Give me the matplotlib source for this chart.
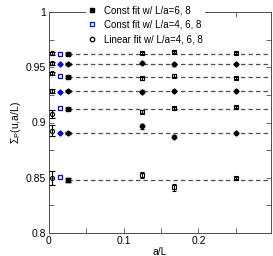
import matplotlib
matplotlib.use("Agg")
import matplotlib.pyplot as plt
from matplotlib.ticker import MultipleLocator, FuncFormatter

plt.rcParams['font.family'] = ['Liberation Sans', 'DejaVu Sans']
plt.rcParams['mathtext.fontset'] = 'custom'
plt.rcParams['mathtext.rm'] = 'Liberation Sans'
plt.rcParams['mathtext.it'] = 'Liberation Sans:italic'

# a/L of the data points (L/a = 8, 6, 4)
aL = [1/8, 1/6, 1/4]
# x positions where the continuum values are drawn
x_lin = 0.004
x_c468 = 0.015
x_c68 = 0.025

# rows drawn with squares
sq_data = [[0.9626, 0.9640, 0.9630],
           [0.9400, 0.9425, 0.9405],
           [0.9098, 0.9128, 0.9143],
           [0.8525, 0.8414, 0.8495]]
sq_err = [[0.0010, 0.0010, 0.0010],
          [0.0012, 0.0012, 0.0010],
          [0.0015, 0.0015, 0.0010],
          [0.0030, 0.0030, 0.0010]]
sq_c68 = [0.9623, 0.9415, 0.9123, 0.8480]
sq_c68_err = [0.0008, 0.0008, 0.0010, 0.0015]
sq_c468 = [0.9623, 0.9425, 0.9130, 0.8505]
sq_lin = [0.9625, 0.9445, 0.9080, 0.8495]
sq_lin_err = [0.0012, 0.0015, 0.0035, 0.0065]

# rows drawn with diamonds
dm_data = [[0.9540, 0.9525, 0.9530],
           [0.9280, 0.9282, 0.9285],
           [0.8965, 0.8872, 0.8902]]
dm_err = [[0.0010, 0.0010, 0.0008],
          [0.0010, 0.0010, 0.0008],
          [0.0025, 0.0015, 0.0010]]
dm_c68 = [0.9531, 0.9283, 0.8902]
dm_c68_err = [0.0008, 0.0008, 0.0010]
dm_c468 = [0.9530, 0.9280, 0.8902]
dm_lin = [0.9535, 0.9285, 0.8925]
dm_lin_err = [0.0012, 0.0020, 0.0050]

fig = plt.figure(figsize=(2.73, 2.56), dpi=100)
ax = fig.add_axes([49/273, 23/256, 222/273, 221/256])

ms = 3.0
dash = (0, (3.5, 2.5))
for i in range(len(sq_data)):
    ax.plot([x_c68, 0.3], [sq_c68[i]] * 2, ls=dash, color='0.3', lw=0.9, zorder=1)
    ax.errorbar(aL, sq_data[i], yerr=sq_err[i], fmt='s', mfc='none', mec='k', ms=ms,
                ecolor='k', elinewidth=0.8, capsize=1.5, mew=0.8, zorder=3)
    ax.errorbar(x_c68, sq_c68[i], yerr=sq_c68_err[i], fmt='s', color='k', ms=ms,
                elinewidth=0.8, capsize=2.5, zorder=3)
    ax.plot(x_c468, sq_c468[i], 's', mfc='none', mec='b', ms=ms, mew=0.9, zorder=3)
    ax.errorbar(x_lin, sq_lin[i], yerr=sq_lin_err[i], fmt='o', mfc='none', mec='k', ms=ms,
                ecolor='k', elinewidth=0.8, capsize=2, mew=0.8, zorder=3)

for i in range(len(dm_data)):
    ax.plot([x_c68, 0.3], [dm_c68[i]] * 2, ls=dash, color='0.3', lw=0.9, zorder=1)
    ax.errorbar(aL, dm_data[i], yerr=dm_err[i], fmt='D', color='k', ms=2.6,
                elinewidth=0.8, capsize=1.5, zorder=3)
    ax.errorbar(x_c68, dm_c68[i], yerr=dm_c68_err[i], fmt='D', color='k', ms=2.6,
                elinewidth=0.8, capsize=2.5, zorder=3)
    ax.plot(x_c468, dm_c468[i], 'D', color='b', ms=2.6, zorder=3)
    ax.errorbar(x_lin, dm_lin[i], yerr=dm_lin_err[i], fmt='o', mfc='none', mec='k', ms=ms,
                ecolor='k', elinewidth=0.8, capsize=2, mew=0.8, zorder=3)

# legend proxies
h1, = ax.plot([], [], 's', color='k', ms=3.2)
h2, = ax.plot([], [], 's', mfc='none', mec='b', ms=3.2, mew=0.9)
h3, = ax.plot([], [], 'o', mfc='none', mec='k', ms=3.2, mew=0.9)
leg = ax.legend([h1, h2, h3],
                ['Const fit w/ L/a=6, 8', 'Const fit w/ L/a=4, 6, 8', 'Linear fit w/ L/a=4, 6, 8'],
                loc='upper left', bbox_to_anchor=(86/273, 1 - 4/256), bbox_transform=fig.transFigure,
                fontsize=7, frameon=True, fancybox=False, framealpha=1, edgecolor='none',
                handlelength=1.0, handletextpad=0.75, labelspacing=0.45, borderpad=0.15,
                borderaxespad=0)
leg.set_zorder(5)

ax.set_xlim(0, 0.297)
ax.set_ylim(0.8, 1.0)
ax.xaxis.set_major_locator(MultipleLocator(0.1))
ax.xaxis.set_minor_locator(MultipleLocator(0.05))
ax.yaxis.set_major_locator(MultipleLocator(0.05))
ax.yaxis.set_minor_locator(MultipleLocator(0.025))
fmt = FuncFormatter(lambda v, p: '%g' % round(v, 3))
ax.xaxis.set_major_formatter(fmt)
ax.yaxis.set_major_formatter(fmt)
ax.tick_params(which='both', direction='in', top=True, right=True, labelsize=7.5,
               width=0.6, color='0.3')
ax.tick_params(which='major', length=3.5, pad=2)
ax.tick_params(which='minor', length=3.5)
for s in ax.spines.values():
    s.set_linewidth(0.7)
    s.set_color('0.3')

ax.set_xlabel('a/L', fontsize=7.5, labelpad=1)
ax.set_ylabel(r'$\Sigma_\mathrm{P}$(u,a/L)', fontsize=7.5, labelpad=2)

fig.savefig('out.png', dpi=100)
